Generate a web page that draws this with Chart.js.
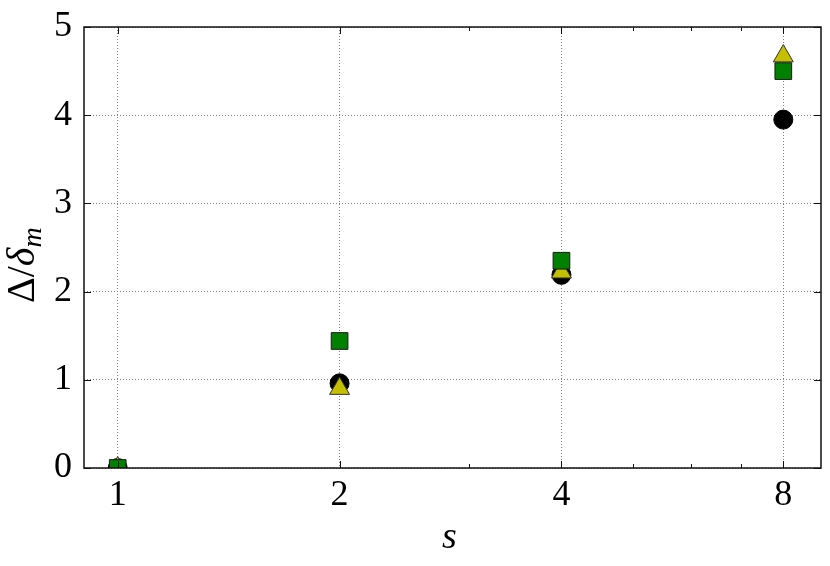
<!DOCTYPE html>
<html>
<head>
<meta charset="utf-8">
<script src="https://cdn.jsdelivr.net/npm/chart.js@4.4.1/dist/chart.umd.min.js"></script>
<style>
  html, body { margin: 0; padding: 0; background: #fff; }
  #wrap { width: 830px; height: 566px; }
</style>
</head>
<body>
<div id="wrap"><canvas id="chart" width="830" height="566"></canvas></div>
<script>
// x values (s) and the three series
const sValues = [1, 2, 4, 8];
const circleVals = [0, 0.96, 2.19, 3.95];
const triangleVals = [0, 0.90, 2.22, 4.67];
const squareVals = [0, 1.44, 2.35, 4.50];

const xMajorTicks = [1, 2, 4, 8];
const xMinorTicks = [3, 5, 6, 7];
const yTicks = [0, 1, 2, 3, 4, 5];

const serif = "'Liberation Serif', 'DejaVu Serif', serif";

const toPoints = (vals) => sValues.map((s, i) => ({ x: s, y: vals[i] }));

// frame, inward tick marks and axis titles
const framePlugin = {
  id: 'frame',
  afterDraw(chart) {
    const ctx = chart.ctx;
    const area = chart.chartArea;
    const xs = chart.scales.x;
    const ys = chart.scales.y;
    ctx.save();

    ctx.strokeStyle = '#111';
    ctx.lineWidth = 1;
    // major ticks
    xMajorTicks.forEach(v => {
      const px = Math.round(xs.getPixelForValue(v)) + 0.5;
      ctx.beginPath();
      ctx.moveTo(px, area.bottom); ctx.lineTo(px, area.bottom - 7);
      ctx.moveTo(px, area.top); ctx.lineTo(px, area.top + 7);
      ctx.stroke();
    });
    // minor ticks
    xMinorTicks.forEach(v => {
      const px = Math.round(xs.getPixelForValue(v)) + 0.5;
      ctx.beginPath();
      ctx.moveTo(px, area.bottom); ctx.lineTo(px, area.bottom - 4);
      ctx.moveTo(px, area.top); ctx.lineTo(px, area.top + 4);
      ctx.stroke();
    });
    yTicks.forEach(v => {
      const py = Math.round(ys.getPixelForValue(v)) + 0.5;
      ctx.beginPath();
      ctx.moveTo(area.left, py); ctx.lineTo(area.left + 7, py);
      ctx.moveTo(area.right, py); ctx.lineTo(area.right - 7, py);
      ctx.stroke();
    });

    // border box
    ctx.lineWidth = 1.5;
    ctx.strokeStyle = '#111';
    ctx.strokeRect(area.left, area.top, area.right - area.left, area.bottom - area.top);

    // x title
    ctx.fillStyle = '#000';
    ctx.font = 'italic 38px ' + serif;
    ctx.textAlign = 'center';
    ctx.textBaseline = 'alphabetic';
    ctx.fillText('s', (area.left + area.right) / 2 - 3, 548);

    // y title: Δ/δ_m rotated
    ctx.translate(34, 303);
    ctx.rotate(-Math.PI / 2);
    ctx.textAlign = 'left';
    let x = 0;
    ctx.font = '40px ' + serif;
    ctx.fillText('Δ/', x, 0);
    x += ctx.measureText('Δ/').width;
    ctx.font = 'italic 40px ' + serif;
    ctx.fillText('δ', x, 0);
    x += ctx.measureText('δ').width;
    ctx.font = 'italic 28px ' + serif;
    ctx.fillText('m', x, 7);

    ctx.restore();
  }
};

new Chart(document.getElementById('chart'), {
  type: 'scatter',
  data: {
    datasets: [
      {
        label: 'circles',
        data: toPoints(circleVals),
        pointStyle: 'circle',
        pointRadius: 9.5,
        pointHoverRadius: 9.5,
        backgroundColor: '#000',
        borderColor: '#000',
        borderWidth: 1,
        order: 3,
        clip: 0
      },
      {
        label: 'triangles',
        data: toPoints(triangleVals),
        pointStyle: 'triangle',
        pointRadius: 11.5,
        pointHoverRadius: 11.5,
        backgroundColor: '#c4c000',
        borderColor: '#333',
        borderWidth: 1,
        order: 2,
        clip: 0
      },
      {
        label: 'squares',
        data: toPoints(squareVals),
        pointStyle: 'rect',
        pointRadius: 11.8,
        pointHoverRadius: 11.8,
        backgroundColor: '#008000',
        borderColor: '#1a1a1a',
        borderWidth: 1,
        order: 1,
        clip: 0
      }
    ]
  },
  options: {
    responsive: false,
    animation: false,
    events: [],
    layout: { autoPadding: false, padding: { left: 0, top: 27, right: 9, bottom: 0 } },
    plugins: {
      legend: { display: false },
      tooltip: { enabled: false },
      title: { display: false }
    },
    scales: {
      x: {
        type: 'logarithmic',
        min: 0.9,
        max: 9,
        z: 1,
        afterBuildTicks: (scale) => {
          scale.ticks = xMajorTicks.map(v => ({ value: v }));
        },
        afterFit: (scale) => {
          scale.height = 98;
          scale.paddingLeft = 0;
          scale.paddingRight = 0;
        },
        border: { display: false, dash: [1, 2] },
        grid: {
          color: '#808080',
          lineWidth: 1,
          drawTicks: false
        },
        ticks: {
          autoSkip: false,
          maxRotation: 0,
          padding: 6,
          color: '#000',
          font: { family: serif, size: 36 },
          callback: (v) => String(v)
        }
      },
      y: {
        min: 0,
        max: 5,
        z: 1,
        afterBuildTicks: (scale) => {
          scale.ticks = yTicks.map(v => ({ value: v }));
        },
        afterFit: (scale) => {
          scale.width = 84;
          scale.paddingTop = 0;
          scale.paddingBottom = 0;
        },
        border: { display: false, dash: [1, 2] },
        grid: {
          color: '#808080',
          lineWidth: 1,
          drawTicks: false
        },
        ticks: {
          padding: 12,
          color: '#000',
          font: { family: serif, size: 36 },
          callback: (v) => String(v)
        }
      }
    }
  },
  plugins: [framePlugin]
});
</script>
</body>
</html>
